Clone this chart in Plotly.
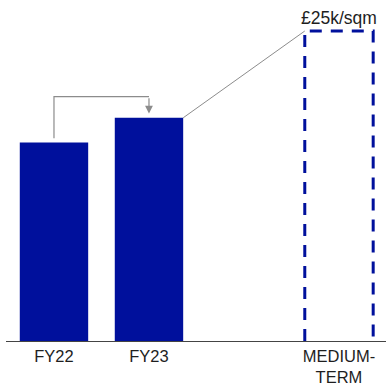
import plotly.graph_objects as go

# Values in £k per sqm
categories = ["FY22", "FY23", "MEDIUM-<br>TERM"]
positions = [0, 1, 3]
values = [16, 18, 25]
target_label = "£25k/sqm"

BLUE = "#00109C"
GREY = "#8C8C8C"
BAR_W = 0.72

fig = go.Figure()

# Actual years as solid bars
fig.add_trace(go.Bar(
    x=positions[:2], y=values[:2], width=BAR_W,
    marker=dict(color=BLUE, line=dict(width=0)),
    hoverinfo="skip",
))

# Medium-term target as a dashed outline
half = BAR_W / 2
xt = positions[2]
fig.add_trace(go.Scatter(
    x=[xt - half, xt - half, xt + half, xt + half],
    y=[0, values[2], values[2], 0],
    mode="lines",
    line=dict(color=BLUE, width=3, dash="12px,9px"),
    hoverinfo="skip",
))

# Thin link from FY23 top corner to the target top corner
fig.add_trace(go.Scatter(
    x=[positions[1] + half, xt - half],
    y=[values[1], values[2]],
    mode="lines",
    line=dict(color=GREY, width=1),
    hoverinfo="skip",
))

# Elbow connector FY22 -> FY23
bend_y = values[1] + 1.7
fig.add_trace(go.Scatter(
    x=[positions[0], positions[0], positions[1]],
    y=[values[0] + 0.35, bend_y, bend_y],
    mode="lines",
    line=dict(color=GREY, width=1.2),
    hoverinfo="skip",
))
fig.add_annotation(
    x=positions[1], y=values[1] + 0.35,
    ax=positions[1], ay=bend_y,
    xref="x", yref="y", axref="x", ayref="y",
    showarrow=True, arrowhead=2, arrowsize=1.3, arrowwidth=1.2,
    arrowcolor=GREY, text="",
)

# Target label
fig.add_annotation(
    x=xt, y=values[2], text=target_label, showarrow=False,
    yanchor="bottom", yshift=1,
    font=dict(size=17.5, color="#1E1E1E"),
)

fig.update_layout(
    width=386, height=392,
    margin=dict(l=6, r=0, t=10, b=51),
    paper_bgcolor="white", plot_bgcolor="white",
    showlegend=False,
    font=dict(family="Liberation Sans, Arial, sans-serif", color="#1E1E1E"),
    xaxis=dict(
        range=[-0.505, 3.495], tickvals=positions, ticktext=categories,
        showgrid=False, zeroline=False, showline=True,
        linecolor="#444444", linewidth=1, ticks="",
        tickfont=dict(size=16.5, color="#1E1E1E"),
        fixedrange=True,
    ),
    yaxis=dict(
        range=[0, 331 / 12.4], visible=False, showgrid=False,
        zeroline=False, fixedrange=True,
    ),
)

fig.write_html("out.html")
